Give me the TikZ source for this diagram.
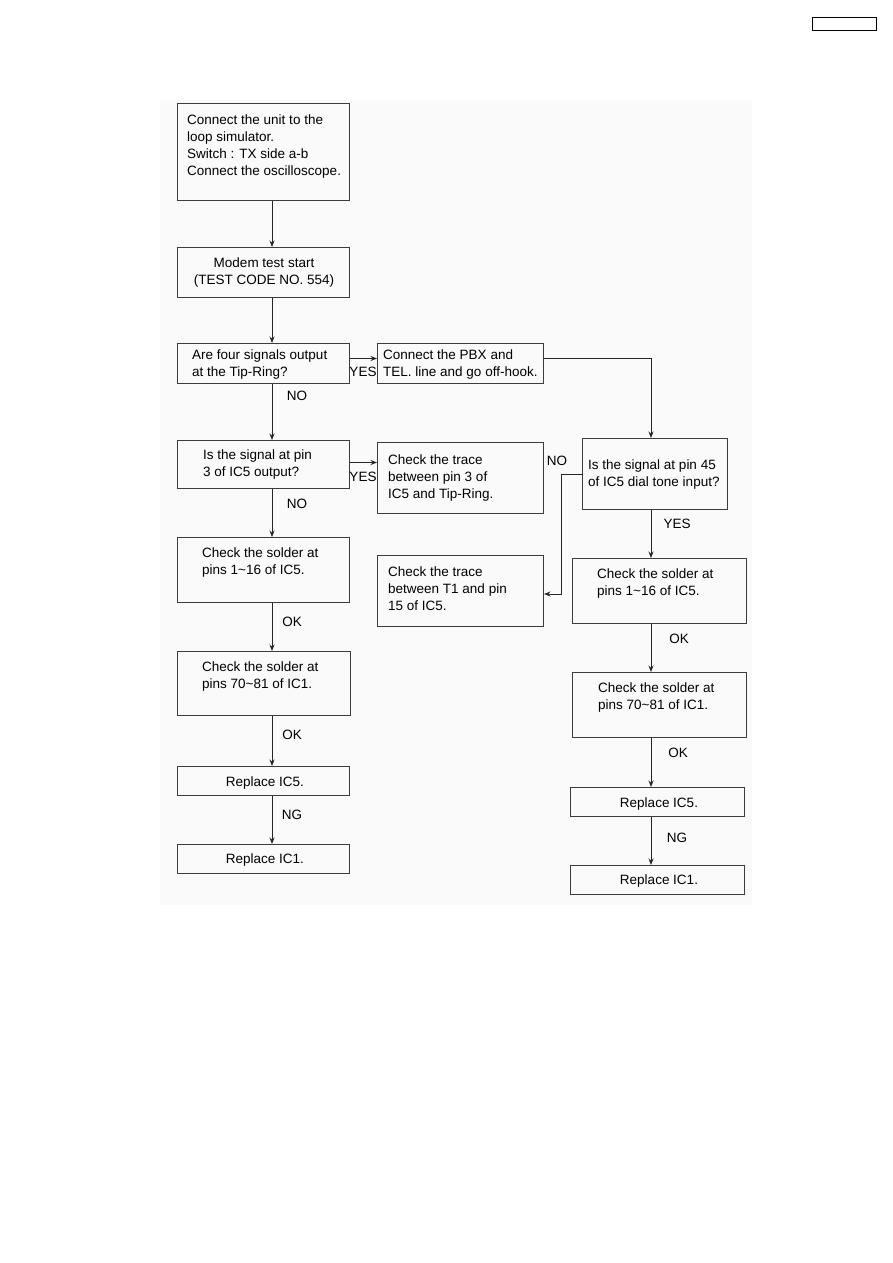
\documentclass[tikz,border=0pt]{standalone}
\usepackage{fontspec}
\setmainfont{Liberation Sans}
\usepackage{tikz}
\usetikzlibrary{arrows.meta,positioning,calc}
\definecolor{boxline}{RGB}{60,60,60}
\definecolor{pagegray}{RGB}{250,250,250}

\begin{document}
\begin{tikzpicture}[x=1pt, y=-1pt,
    stepbox/.style={rectangle, draw=boxline, line width=1pt, inner sep=0pt, anchor=north west},
    txt/.style={font=\fontsize{13.5}{17}\selectfont, align=left, inner sep=0pt, anchor=north west},
    ctxt/.style={font=\fontsize{13.5}{17}\selectfont, align=center, inner sep=0pt},
    lbl/.style={font=\fontsize{13.5}{17}\selectfont, inner sep=0pt},
    arr/.style={-{Stealth[length=6.5pt,width=5pt]}, line width=0.9pt, draw=black!85}
]
\useasboundingbox (0,0) rectangle (893,1263);
\fill[pagegray] (160,100) rectangle (752,905);

% page number box
\node[stepbox, line width=1.3pt, draw=black, minimum width=64pt, minimum height=13pt] (pageno) at (812,17) {};

% left column
\node[stepbox, minimum width=172pt, minimum height=97pt] (start) at (177,103) {};
\node[txt] (start-t) at (187,115) {Connect the unit to the\\loop simulator.\\Switch : TX side a-b\\Connect the oscilloscope.};

\node[stepbox, minimum width=172pt, minimum height=50pt] (modem) at (177,247) {};
\node[ctxt] (modem-t) at (264,273) {Modem test start\\(TEST CODE NO. 554)};

\node[stepbox, minimum width=172pt, minimum height=40pt] (four) at (177,343) {};
\node[txt] (four-t) at (192,350) {Are four signals output\\at the Tip-Ring?};

\node[stepbox, minimum width=166pt, minimum height=40pt] (pbx) at (377,343) {};
\node[txt] (pbx-t) at (383,350) {Connect the PBX and\\TEL. line and go off-hook.};

\node[stepbox, minimum width=172pt, minimum height=48pt] (sig3) at (177,440) {};
\node[txt] (sig3-t) at (203,450) {Is the signal at pin\\3 of IC5 output?};

\node[stepbox, minimum width=166pt, minimum height=71pt] (trace3) at (377,442) {};
\node[txt] (trace3-t) at (388,455) {Check the trace\\between pin 3 of\\IC5 and Tip-Ring.};

\node[stepbox, minimum width=172pt, minimum height=65pt] (solderL1) at (177,537) {};
\node[txt] (solderL1-t) at (202,548) {Check the solder at\\pins 1\textasciitilde16 of IC5.};

\node[stepbox, minimum width=173pt, minimum height=64pt] (solderL2) at (177,651) {};
\node[txt] (solderL2-t) at (202,662) {Check the solder at\\pins 70\textasciitilde81 of IC1.};

\node[stepbox, minimum width=172pt, minimum height=29pt] (replL5) at (177,766) {};
\node[ctxt] (replL5-t) at (265,783) {Replace IC5.};

\node[stepbox, minimum width=172pt, minimum height=29pt] (replL1) at (177,844) {};
\node[ctxt] (replL1-t) at (265,860) {Replace IC1.};

% right column
\node[stepbox, minimum width=145pt, minimum height=71pt] (dial) at (582,438) {};
\node[txt] (dial-t) at (588,460) {Is the signal at pin 45\\of IC5 dial tone input?};

\node[stepbox, minimum width=166pt, minimum height=71pt] (traceT1) at (377,555) {};
\node[txt] (traceT1-t) at (388,567) {Check the trace\\between T1 and pin\\15 of IC5.};

\node[stepbox, minimum width=174pt, minimum height=65pt] (solderR1) at (572,558) {};
\node[txt] (solderR1-t) at (597,569) {Check the solder at\\pins 1\textasciitilde16 of IC5.};

\node[stepbox, minimum width=174pt, minimum height=65pt] (solderR2) at (572,672) {};
\node[txt] (solderR2-t) at (598,683) {Check the solder at\\pins 70\textasciitilde81 of IC1.};

\node[stepbox, minimum width=174pt, minimum height=29pt] (replR5) at (570,787) {};
\node[ctxt] (replR5-t) at (659,804) {Replace IC5.};

\node[stepbox, minimum width=174pt, minimum height=29pt] (replR1) at (570,865) {};
\node[ctxt] (replR1-t) at (659,881) {Replace IC1.};

% arrow columns
\coordinate (colL) at (272,0);
\coordinate (colR) at (651,0);

% connectors
\draw[arr] (start.south -| colL) -- (modem.north -| colL);
\draw[arr] (modem.south -| colL) -- (four.north -| colL);
\draw[arr] (four.south -| colL) -- (sig3.north -| colL);
\draw[arr] ([yshift=5pt]four.east) -- ([yshift=5pt]pbx.west);
\draw[arr] ([yshift=5pt]pbx.east) -| (dial.north -| colR);
\draw[arr] ([yshift=2pt]sig3.east) -- ([yshift=2pt]sig3.east -| trace3.west);
\draw[arr] (sig3.south -| colL) -- (solderL1.north -| colL);
\draw[arr] (solderL1.south -| colL) -- (solderL2.north -| colL);
\draw[arr] (solderL2.south -| colL) -- (replL5.north -| colL);
\draw[arr] (replL5.south -| colL) -- (replL1.north -| colL);
\draw[arr] (dial.west) -- ++(-21,0) |- ([yshift=-3pt]traceT1.east);
\draw[arr] (dial.south -| colR) -- (solderR1.north -| colR);
\draw[arr] (solderR1.south -| colR) -- (solderR2.north -| colR);
\draw[arr] (solderR2.south -| colR) -- (replR5.north -| colR);
\draw[arr] (replR5.south -| colR) -- (replR1.north -| colR);

% branch labels
\node[lbl] (no1) at (297,396) {NO};
\node[lbl] (yes1) at (363,372) {YES};
\node[lbl] (yes2) at (363,477) {YES};
\node[lbl] (no2) at (297,504) {NO};
\node[lbl] (ok1) at (292,622) {OK};
\node[lbl] (ok2) at (292,735) {OK};
\node[lbl] (ng1) at (292,815) {NG};
\node[lbl] (no3) at (557,461) {NO};
\node[lbl] (yes3) at (677,524) {YES};
\node[lbl] (ok3) at (679,639) {OK};
\node[lbl] (ok4) at (678,753) {OK};
\node[lbl] (ng2) at (677,838) {NG};
\end{tikzpicture}
\end{document}
